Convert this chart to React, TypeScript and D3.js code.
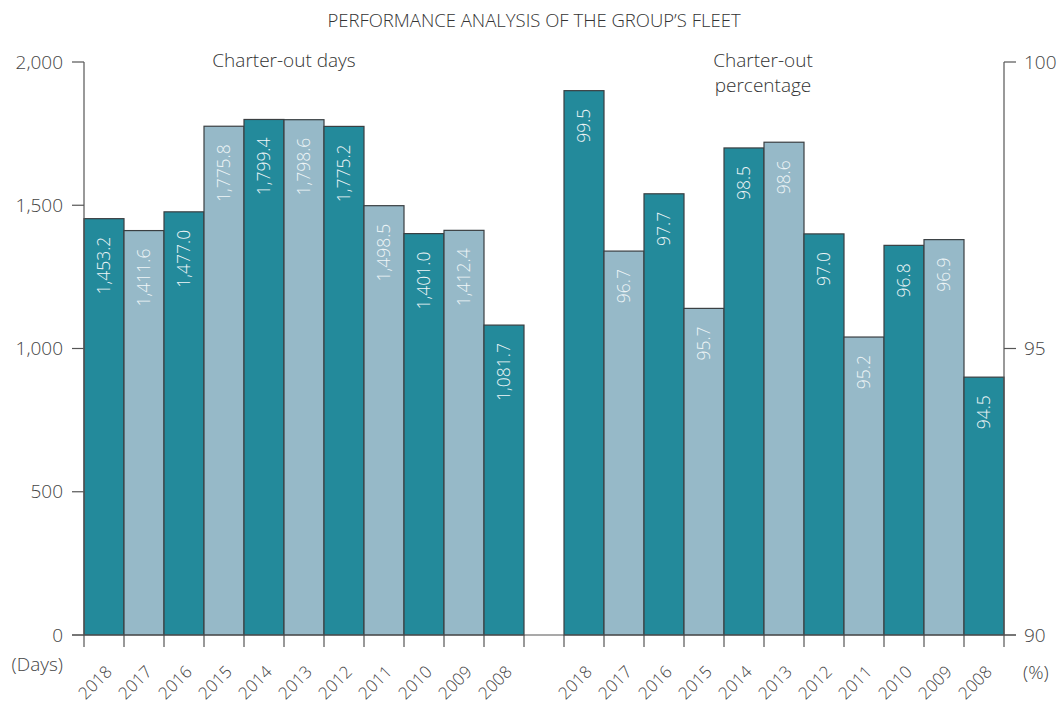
import React, { useRef, useEffect } from "react";
import * as d3 from "d3";

const years = ["2018", "2017", "2016", "2015", "2014", "2013", "2012", "2011", "2010", "2009", "2008"];
const daysValues = [1453.2, 1411.6, 1477.0, 1775.8, 1799.4, 1798.6, 1775.2, 1498.5, 1401.0, 1412.4, 1081.7];
const pctValues = [99.5, 96.7, 97.7, 95.7, 98.5, 98.6, 97.0, 95.2, 96.8, 96.9, 94.5];
const daysTicks = [0, 500, 1000, 1500, 2000];
const pctTicks = [90, 95, 100];

const width = 1057;
const height = 706;
const margin = { top: 62, left: 84, right: 53, bottom: 71 };
const darkColor = "#238a9b";
const lightColor = "#96b9c8";
const edgeColor = "#3a3f42";
const textColor = "#444";
const font = "'Open Sans', 'Noto Sans', sans-serif";

export default function App() {
  const ref = useRef<SVGSVGElement>(null);

  useEffect(() => {
    const svg = d3.select(ref.current);
    svg.selectAll("*").remove();

    // 11 slots per panel with one empty slot between them
    const slots = [...years.map((y) => "d" + y), "gap", ...years.map((y) => "p" + y)];
    const x = d3
      .scaleBand<string>()
      .domain(slots)
      .range([margin.left, width - margin.right])
      .padding(0);
    const yDays = d3.scaleLinear().domain([0, 2000]).range([height - margin.bottom, margin.top]);
    const yPct = d3.scaleLinear().domain([90, 100]).range([height - margin.bottom, margin.top]);
    const base = yDays(0);
    const fmtDays = d3.format(",.1f");
    const fmtPct = d3.format(".1f");

    svg
      .append("text")
      .attr("x", 534)
      .attr("y", 27)
      .attr("text-anchor", "middle")
      .style("font-family", font)
      .style("font-size", "18.5px")
      .style("font-weight", 300)
      .attr("fill", "#333")
      .text("PERFORMANCE ANALYSIS OF THE GROUP\u2019S FLEET");

    const bars = [
      ...years.map((yr, i) => ({ key: "d" + yr, y: yDays(daysValues[i]), label: fmtDays(daysValues[i]), i })),
      ...years.map((yr, i) => ({ key: "p" + yr, y: yPct(pctValues[i]), label: fmtPct(pctValues[i]), i })),
    ];

    const g = svg.selectAll("g.bar").data(bars).enter().append("g").attr("class", "bar");
    g.append("rect")
      .attr("x", (d) => x(d.key)!)
      .attr("y", (d) => d.y)
      .attr("width", x.bandwidth())
      .attr("height", (d) => base - d.y)
      .attr("fill", (d) => (d.i % 2 === 0 ? darkColor : lightColor))
      .attr("stroke", edgeColor)
      .attr("stroke-width", 1.2);
    g.append("text")
      .attr("transform", (d) => `translate(${x(d.key)! + x.bandwidth() / 2 + 6},${d.y + 18}) rotate(-90)`)
      .attr("text-anchor", "end")
      .style("font-family", font)
      .style("font-size", "17.5px")
      .style("font-weight", 300)
      .attr("fill", "#eef5f7")
      .text((d) => d.label);

    const axis = svg.append("g").attr("stroke", "#555").attr("stroke-width", 1.2);
    axis.append("line").attr("x1", margin.left).attr("x2", margin.left).attr("y1", margin.top).attr("y2", base);
    axis
      .append("line")
      .attr("x1", width - margin.right)
      .attr("x2", width - margin.right)
      .attr("y1", margin.top)
      .attr("y2", base);
    axis
      .append("line")
      .attr("x1", margin.left - 12)
      .attr("x2", width - margin.right + 12)
      .attr("y1", base)
      .attr("y2", base);

    const boundaries = [...slots.map((s) => x(s)!), width - margin.right];
    axis
      .selectAll("line.xt")
      .data(boundaries)
      .enter()
      .append("line")
      .attr("x1", (d) => d)
      .attr("x2", (d) => d)
      .attr("y1", base)
      .attr("y2", base + 12);

    daysTicks.forEach((t) => {
      axis
        .append("line")
        .attr("x1", margin.left - 12)
        .attr("x2", margin.left)
        .attr("y1", yDays(t))
        .attr("y2", yDays(t));
      svg
        .append("text")
        .attr("x", margin.left - 21)
        .attr("y", yDays(t))
        .attr("dy", "0.35em")
        .attr("text-anchor", "end")
        .style("font-family", font)
        .style("font-size", "19px")
        .style("font-weight", 300)
        .attr("fill", textColor)
        .text(d3.format(",")(t));
    });

    pctTicks.forEach((t) => {
      axis
        .append("line")
        .attr("x1", width - margin.right)
        .attr("x2", width - margin.right + 12)
        .attr("y1", yPct(t))
        .attr("y2", yPct(t));
      svg
        .append("text")
        .attr("x", width - margin.right + 20)
        .attr("y", yPct(t))
        .attr("dy", "0.35em")
        .style("font-family", font)
        .style("font-size", "19px")
        .style("font-weight", 300)
        .attr("fill", textColor)
        .text(t);
    });

    svg
      .selectAll("text.xl")
      .data(slots.filter((s) => s !== "gap"))
      .enter()
      .append("text")
      .attr("transform", (d) => `translate(${x(d)! + x.bandwidth() / 2 + 9},${base + 38}) rotate(-45)`)
      .attr("text-anchor", "end")
      .style("font-family", font)
      .style("font-size", "17px")
      .style("font-weight", 300)
      .attr("fill", textColor)
      .text((d) => d.slice(1));

    svg
      .append("text")
      .attr("x", 63)
      .attr("y", base + 36)
      .attr("text-anchor", "end")
      .style("font-family", font)
      .style("font-size", "19px")
      .style("font-weight", 300)
      .attr("fill", textColor)
      .text("(Days)");
    svg
      .append("text")
      .attr("x", width - margin.right + 19)
      .attr("y", base + 44)
      .style("font-family", font)
      .style("font-size", "19px")
      .style("font-weight", 300)
      .attr("fill", textColor)
      .text("(%)");

    const notes = [
      { x: 284, y: 67, lines: ["Charter-out days"] },
      { x: 763, y: 67, lines: ["Charter-out", "percentage"] },
    ];
    notes.forEach((n) => {
      const t = svg
        .append("text")
        .attr("text-anchor", "middle")
        .style("font-family", font)
        .style("font-size", "19px")
        .style("font-weight", 300)
        .attr("fill", "#333");
      n.lines.forEach((l, i) => {
        t.append("tspan").attr("x", n.x).attr("y", n.y + i * 25).text(l);
      });
    });
  }, []);

  return (
    <svg
      ref={ref}
      width={width}
      height={height}
      style={{ position: "absolute", left: 0, top: 0, display: "block", background: "#fff" }}
    />
  );
}
